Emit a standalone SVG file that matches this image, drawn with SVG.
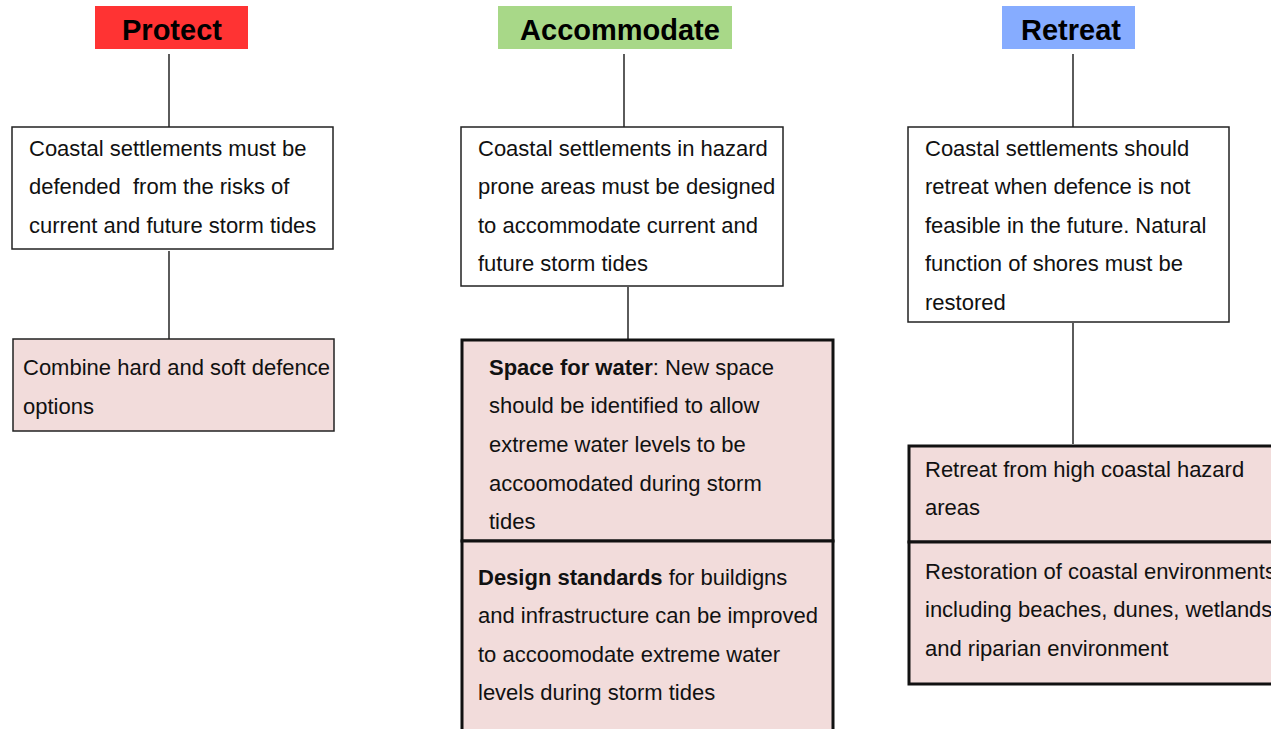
<svg xmlns="http://www.w3.org/2000/svg" width="1271" height="729" viewBox="0 0 1271 729">
<style>
.hdr{font-family:"Liberation Sans",Arial,sans-serif;font-size:29px;font-weight:bold;fill:#000;text-anchor:middle}
.t{font-family:"Liberation Sans",Arial,sans-serif;font-size:22px;fill:#111}
.b{font-weight:bold}
.box{fill:#fff;stroke:#222;stroke-width:1.5}
.pink{fill:#f2dcdb;stroke:#222;stroke-width:1.5}
.pinkT{fill:#f2dcdb;stroke:#111;stroke-width:3}
.ln{stroke:#333;stroke-width:1.6;fill:none}
</style>
<rect width="1271" height="729" fill="#fff"/>
<g id="connectors">
<line class="ln" x1="169" y1="54" x2="169" y2="127"/>
<line class="ln" x1="169" y1="251" x2="169" y2="339"/>
<line class="ln" x1="624" y1="54" x2="624" y2="127"/>
<line class="ln" x1="628" y1="287" x2="628" y2="339"/>
<line class="ln" x1="1073" y1="54" x2="1073" y2="127"/>
<line class="ln" x1="1073" y1="323" x2="1073" y2="444"/>
</g>
<g id="protect">
<rect x="95" y="6" width="153" height="43" fill="#ff3333"/>
<text class="hdr" x="172" y="40">Protect</text>
</g>
<g id="protect-desc">
<rect class="box" x="12" y="127" width="321" height="122"/>
<text class="t"><tspan x="29" y="156">Coastal settlements must be</tspan><tspan x="29" y="194">defended&#160; from the risks of</tspan><tspan x="29" y="233">current and future storm tides</tspan></text>
</g>
<g id="protect-option">
<rect class="pink" x="13" y="339" width="321" height="92"/>
<text class="t"><tspan x="23" y="375">Combine hard and soft defence</tspan><tspan x="23" y="414">options</tspan></text>
</g>
<g id="accommodate">
<rect x="498" y="6" width="234" height="43" fill="#a8d888"/>
<text class="hdr" x="620" y="40">Accommodate</text>
</g>
<g id="accommodate-desc">
<rect class="box" x="461" y="127" width="322" height="159"/>
<text class="t"><tspan x="478" y="156">Coastal settlements in hazard</tspan><tspan x="478" y="194">prone areas must be designed</tspan><tspan x="478" y="233">to accommodate current and</tspan><tspan x="478" y="271">future storm tides</tspan></text>
</g>
<g id="accommodate-space">
<rect class="pinkT" x="462" y="340" width="371" height="201"/>
<text class="t"><tspan x="489" y="375"><tspan class="b">Space for water</tspan>: New space</tspan><tspan x="489" y="413">should be identified to allow</tspan><tspan x="489" y="452">extreme water levels to be</tspan><tspan x="489" y="491">accoomodated during storm</tspan><tspan x="489" y="529">tides</tspan></text>
</g>
<g id="accommodate-design">
<rect class="pinkT" x="462" y="541" width="371" height="200"/>
<text class="t"><tspan x="478" y="585"><tspan class="b">Design standards</tspan> for buildigns</tspan><tspan x="478" y="623">and infrastructure can be improved</tspan><tspan x="478" y="662">to accoomodate extreme water</tspan><tspan x="478" y="700">levels during storm tides</tspan></text>
</g>
<g id="retreat">
<rect x="1002" y="6" width="133" height="43" fill="#86acff"/>
<text class="hdr" x="1071" y="40">Retreat</text>
</g>
<g id="retreat-desc">
<rect class="box" x="908" y="127" width="321" height="195"/>
<text class="t"><tspan x="925" y="156">Coastal settlements should</tspan><tspan x="925" y="194">retreat when defence is not</tspan><tspan x="925" y="233">feasible in the future. Natural</tspan><tspan x="925" y="271">function of shores must be</tspan><tspan x="925" y="310">restored</tspan></text>
</g>
<g id="retreat-option1">
<rect class="pinkT" x="909" y="446" width="380" height="96"/>
<text class="t"><tspan x="925" y="477">Retreat from high coastal hazard</tspan><tspan x="925" y="515">areas</tspan></text>
</g>
<g id="retreat-option2">
<rect class="pinkT" x="909" y="542" width="380" height="142"/>
<text class="t"><tspan x="925" y="579">Restoration of coastal environments</tspan><tspan x="925" y="617">including beaches, dunes, wetlands</tspan><tspan x="925" y="656">and riparian environment</tspan></text>
</g>
</svg>
